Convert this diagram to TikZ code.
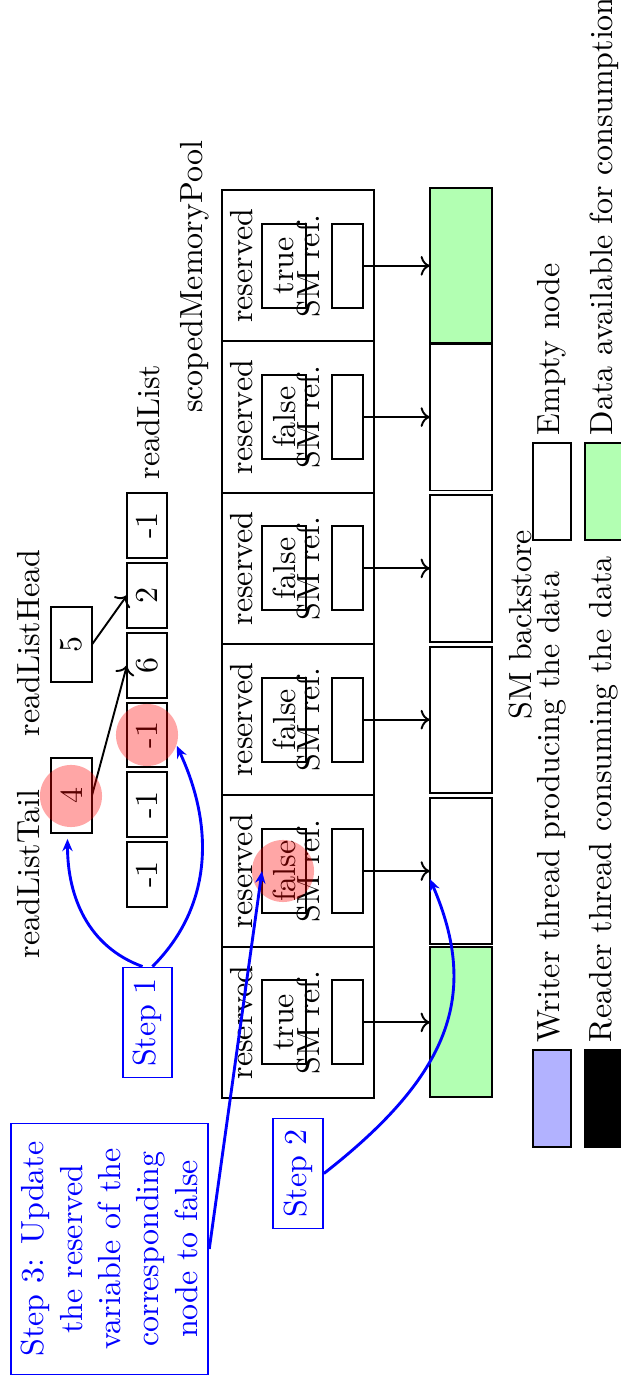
\documentclass[tikz,border=0pt]{standalone}
\usetikzlibrary{arrows.meta,calc}
\begin{document}
\begin{tikzpicture}[x=0.3125pt,y=0.3125pt,
  box/.style={draw, line width=0.6pt, inner sep=0pt, outer sep=0pt},
  lbl/.style={inner sep=0pt},
  conn/.style={->, line width=0.6pt},
  stepbox/.style={draw=blue, text=blue, line width=0.6pt, inner sep=3.3pt, align=center},
  bluearrow/.style={-{Stealth[length=3.8pt,width=3.2pt]}, draw=blue, line width=0.9pt},
  hl/.style={circle, fill=red, fill opacity=0.35, minimum size=19.4pt, inner sep=0pt},
  legtxt/.style={anchor=west, inner sep=2.2pt},
  legbox/.style={box, minimum width=30.3pt, minimum height=11.9pt}
]
\begin{scope}[rotate=90, transform shape]
\useasboundingbox (0,0) rectangle (1375,620);

% scopedMemoryPool
\foreach \i/\cx/\v in {1/352.6/true,2/503.9/false,3/655.3/false,4/806.6/false,5/957.9/false,6/1109.2/true}{
  \node[box, minimum width=47.3pt, minimum height=47.5pt] (m\i) at (\cx,322) {};
  \node[lbl, anchor=base] (r\i) at (\cx,367) {reserved};
  \node[box, minimum width=26.25pt, minimum height=13.75pt] (f\i) at (\cx,336) {\v};
  \node[lbl, anchor=base] (sm\i) at (\cx,300) {SM ref.};
  \node[box, minimum width=26.25pt, minimum height=9.7pt] (e\i) at (\cx,272.5) {};
}

% SM backstore
\foreach \i/\cx/\w/\c in {1/352.6/46.9pt/green!30, 2/503.9/45.6pt/white, 3/655.3/45.6pt/white, 4/806.6/45.9pt/white, 5/957.9/45.9pt/white, 6/1109.2/48.4pt/green!30}{
  \node[box, fill=\c, minimum width=\w, minimum height=19.4pt] (k\i) at (\cx,159) {};
}
\foreach \i in {1,...,6}{
  \draw[conn] (e\i.south) -- (k\i.north);
}

% readList
\foreach \i/\v in {1/-1,2/-1,3/-1,4/6,5/2,6/-1}{
  \pgfmathsetmacro\cx{500.4+69.8*(\i-1)}
  \node[box, minimum width=20.25pt, minimum height=12.5pt] (q\i) at (\cx,473) {\v};
}
\node[box, minimum width=23.4pt, minimum height=12.8pt] (tail) at (579.5,548.5) {4};
\node[box, minimum width=23.4pt, minimum height=12.8pt] (head) at (730.5,548.5) {5};
\node[lbl, anchor=base] (tailL) at (501,580) {readListTail};
\node[lbl, anchor=base] (headL) at (732,580) {readListHead};
\node[lbl, anchor=base west] (listL) at (895,460) {readList};
\node[lbl, anchor=base] (poolL) at (1098,417) {scopedMemoryPool};
\node[lbl, anchor=base] (storeL) at (750,88) {SM backstore};

\draw[conn] (tail.south) -- (q4.north);
\draw[conn] (head.south) -- (q5.north);

% legend
\node[legbox, fill=blue!30] (lw) at (276.5,68) {};
\node[legbox, fill=black] (lr) at (276.5,16) {};
\node[legbox, fill=white] (le) at (883.5,68) {};
\node[legbox, fill=green!30] (ld) at (883.5,16) {};
\node[legtxt] (lwt) at (lw.east) {Writer thread producing the data};
\node[legtxt] (lrt) at (lr.east) {Reader thread consuming the data};
\node[legtxt] (let) at (le.east) {Empty node};
\node[legtxt] (ldt) at (ld.east) {Data available for consumption};

% highlights
\node[hl] (h1) at (579,549) {};
\node[hl] (h2) at (640,473) {};
\node[hl] (h3) at (504,337) {};

% steps
\node[stepbox] (st1) at (352.5,472.5) {Step 1};
\node[stepbox] (st2) at (201.5,322) {Step 2};
\node[stepbox, inner xsep=5.6pt] (st3) at (126,510.5) {Step 3: Update\\the reserved\\variable of the\\corresponding\\node to false};

\draw[bluearrow] ($(st1.east)+(0,5)$) to[out=70,in=180] ($(tail.west)+(-6,4)$);
\draw[bluearrow] ($(st1.east)+(0,-5)$) to[out=-45,in=205] (h2.250);
\draw[bluearrow] (st2.south) .. controls (300,170) and (380,140) .. ($(k2.north)+(-8,0)$);
\draw[bluearrow] (st3.south) -- (f2.north);
\end{scope}
\end{tikzpicture}
\end{document}
